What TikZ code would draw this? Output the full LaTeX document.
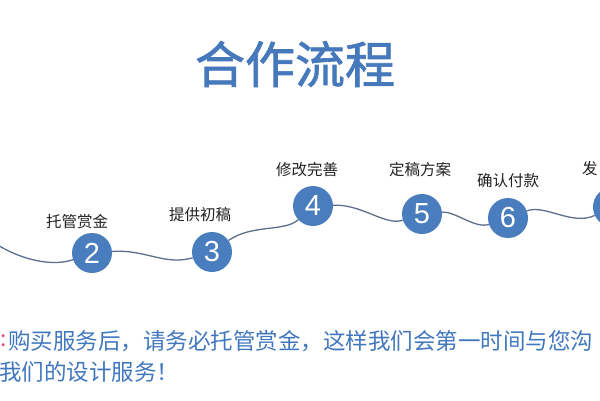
\documentclass[tikz,border=0pt]{standalone}
\usepackage{fontspec}
\newfontfamily\cjk{Noto Sans CJK SC}
\newfontfamily\cjktitle{Noto Sans CJK SC}[FakeBold=1.4]
\newfontfamily\digitfont{Liberation Sans}
\definecolor{circblue}{HTML}{4A7DBE}
\definecolor{titleblue}{HTML}{4679BC}
\definecolor{wave}{HTML}{5C6F8C}
\definecolor{noteblue}{HTML}{4177BE}
\definecolor{notepink}{HTML}{E24C85}
\definecolor{labelgray}{HTML}{222222}
\tikzset{
  stepcirc/.style={circle, fill=circblue, minimum size=40pt, inner sep=0pt,
    text=white, font=\digitfont\fontsize{29}{29}\selectfont},
  steplabel/.style={inner sep=0pt, text=labelgray, font=\cjk\fontsize{15.5}{15.5}\selectfont},
  wavestyle/.style={draw=wave, line width=1.3pt},
  notetext/.style={inner sep=0pt, anchor=west, text=noteblue, font=\cjk\fontsize{22.5}{22.5}\selectfont},
}
\begin{document}
\begin{tikzpicture}[x=1pt,y=-1pt]
\useasboundingbox (0,0) rectangle (600,400);
\fill[white] (0,0) rectangle (600,400);
% title
\node[inner sep=0pt, text=titleblue, font=\cjktitle\fontsize{50}{50}\selectfont] (title) at (295,64) {合作流程};
% step circles
\coordinate (L) at (-4,244);
\node[stepcirc] (c2) at (92,253) {2};
\node[stepcirc] (c3) at (212,252) {3};
\node[stepcirc] (c4) at (313,206) {4};
\node[stepcirc] (c5) at (422,214) {5};
\node[stepcirc] (c6) at (508,218) {6};
\node[stepcirc] (c7) at (613,207) {};
% wave connectors
\draw[wavestyle] (L) .. controls (25,262) and (55,266) .. (c2);
\draw[wavestyle] (c2) .. controls (145,249) and (165,266) .. (c3);
\draw[wavestyle] (c3) .. controls (252,224) and (285,232) .. (c4);
\draw[wavestyle] (c4) .. controls (362,204) and (385,226) .. (c5);
\draw[wavestyle] (c5) .. controls (455,211) and (475,229) .. (c6);
\draw[wavestyle] (c6) .. controls (545,204) and (572,226) .. (c7);
% labels
\node[steplabel] (l2) at (77,222) {托管赏金};
\node[steplabel] (l3) at (200,215) {提供初稿};
\node[steplabel] (l4) at (307,170) {修改完善};
\node[steplabel] (l5) at (420,170) {定稿方案};
\node[steplabel] (l6) at (508,181) {确认付款};
\node[steplabel, anchor=west] (l7) at (582,169) {发};
% note text
\node[notetext, text=notepink] (colon) at (0,341) {:};
\node[notetext] (n1) at (8,341) {购买服务后，请务必托管赏金，这样我们会第一时间与您沟};
\node[notetext] (n2) at (-1,372) {我们的设计服务！};
\end{tikzpicture}
\end{document}
